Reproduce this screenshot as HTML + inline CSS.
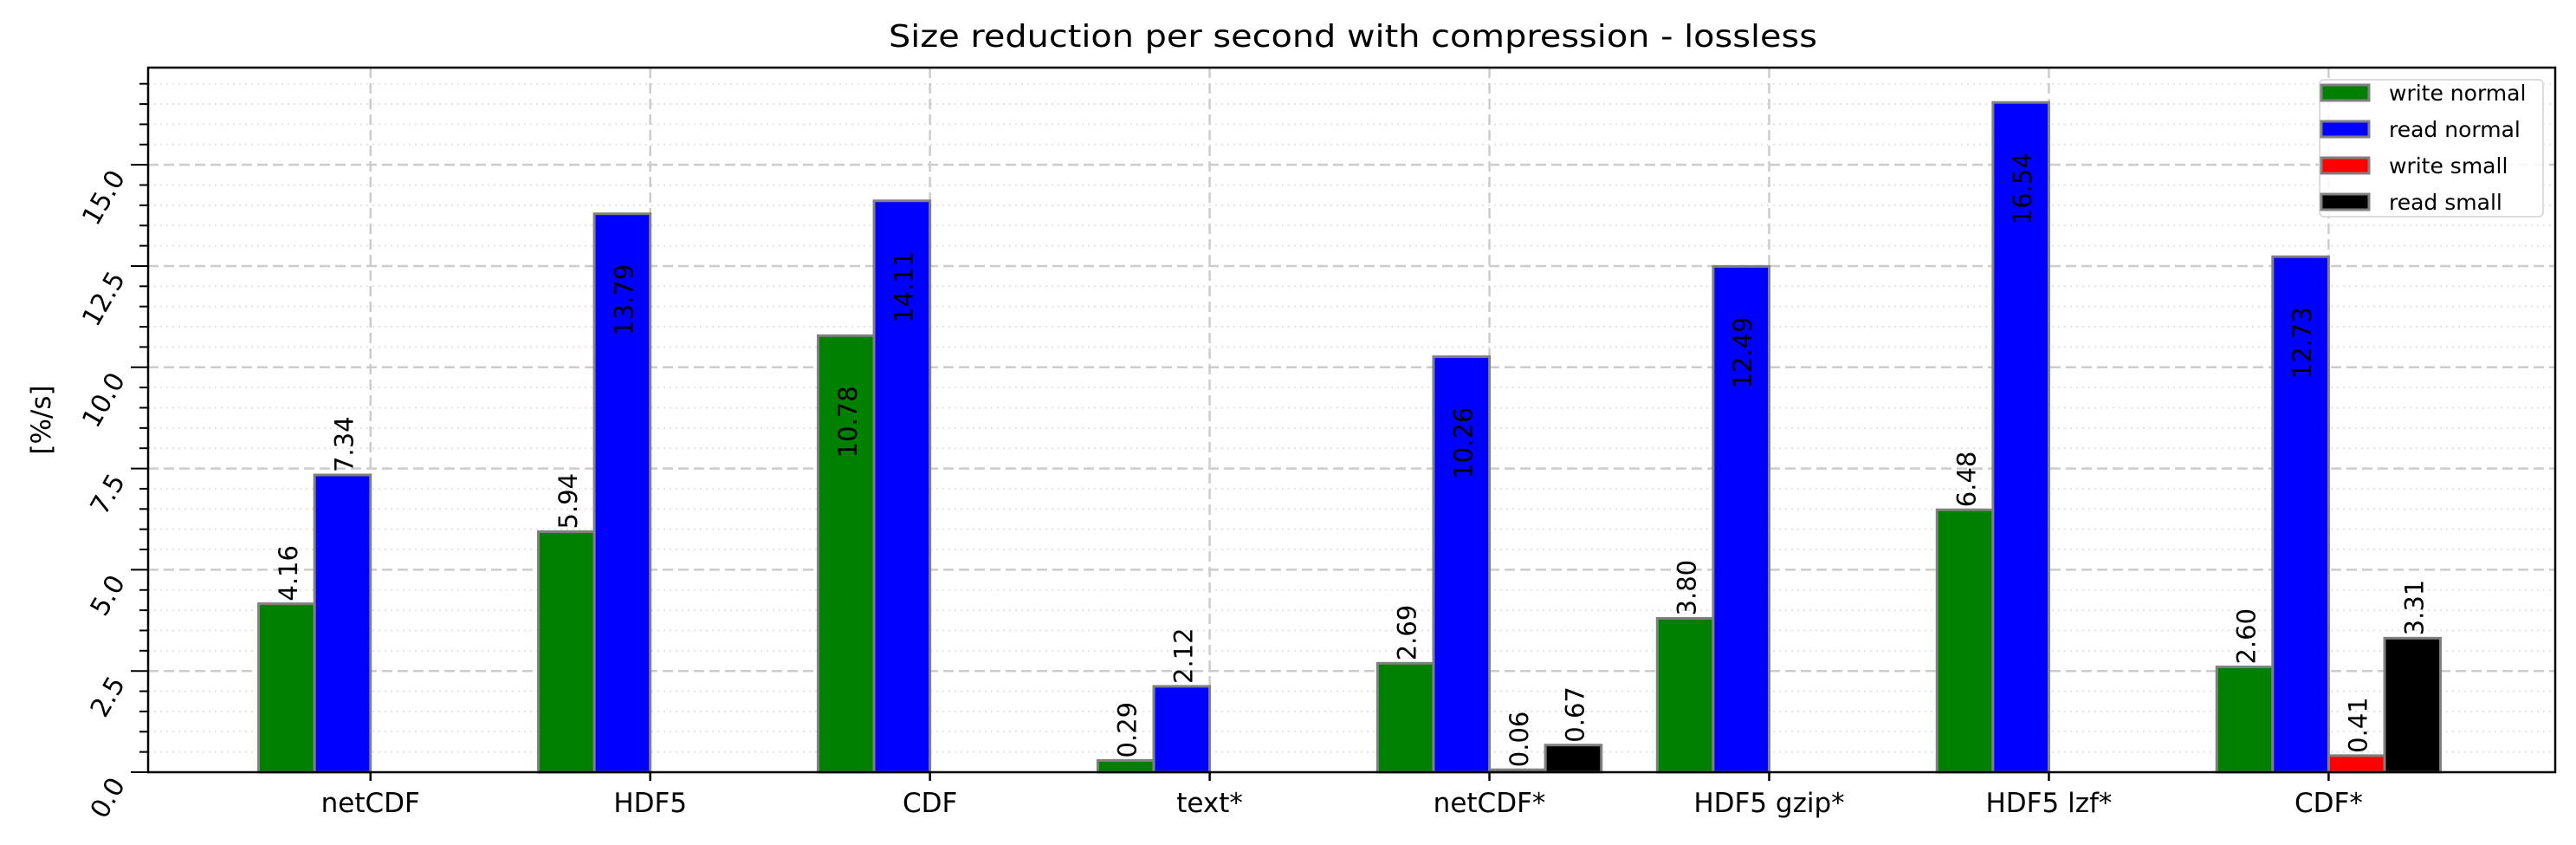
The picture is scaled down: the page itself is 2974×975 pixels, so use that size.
<!DOCTYPE html>
<html><head><meta charset="utf-8"><style>
html,body{margin:0;padding:0;background:#fff;}
svg{display:block;font-family:"DejaVu Sans","Liberation Sans",sans-serif;}
</style></head><body>
<svg id="chart" width="2974" height="975" viewBox="0 0 2974 975" xmlns="http://www.w3.org/2000/svg">
<text x="1562" y="54" font-size="36" text-anchor="middle" textLength="1072" lengthAdjust="spacingAndGlyphs">Size reduction per second with compression - lossless</text>
<g id="grid"></g><g id="bars"></g><g id="axes"></g>
</svg>
<script>
const categories = ["netCDF","HDF5","CDF","text*","netCDF*","HDF5 gzip*","HDF5 lzf*","CDF*"];
const writeNormal = [4.16,5.94,10.78,0.29,2.69,3.80,6.48,2.60];
const readNormal = [7.34,13.79,14.11,2.12,10.26,12.49,16.54,12.73];
const writeSmall = [null,null,null,null,0.06,null,null,0.41];
const readSmall = [null,null,null,null,0.67,null,null,3.31];
const yTicks = [0,2.5,5,7.5,10,12.5,15];
const yTickLabels = ["0.0","2.5","5.0","7.5","10.0","12.5","15.0"];
const seriesNames = ["write normal","read normal","write small","read small"];

const NS="http://www.w3.org/2000/svg";
const L=171,R=2950,T=78,B=891,XMIN=-0.795,XMAX=7.81,YMAX=17.4;
const xs=v=>L+(v-XMIN)/(XMAX-XMIN)*(R-L);
const ys=v=>B-v/YMAX*(B-T);
function mk(tag,attrs,parent){const e=document.createElementNS(NS,tag);for(const k in attrs)e.setAttribute(k,attrs[k]);parent.appendChild(e);return e;}
const grid=document.getElementById('grid'),bars=document.getElementById('bars'),axes=document.getElementById('axes');
for(let v=0.5;v<YMAX;v+=0.5){
  if(Math.abs(v/2.5-Math.round(v/2.5))<1e-6)continue;
  const g=mk('line',{x1:L,x2:R,y1:ys(v),y2:ys(v),stroke:'#e3e3e3','stroke-width':2,'stroke-dasharray':'2,5'},grid);
  
  
  const t=mk('line',{x1:L-10,x2:L,y1:ys(v),y2:ys(v),stroke:'#000','stroke-width':2},axes);
  
  
}
yTicks.forEach((v,i)=>{
  if(v>0){const g=mk('line',{x1:L,x2:R,y1:ys(v),y2:ys(v),stroke:'#cccccc','stroke-width':2.5,'stroke-dasharray':'12,6'},grid);
  
  }
  const t=mk('line',{x1:L-20,x2:L,y1:ys(v),y2:ys(v),stroke:'#000','stroke-width':2},axes);
  
  
  const lb=mk('text',{x:0,y:0,'font-size':30,'text-anchor':'end',transform:`translate(${L-26},${ys(v)+14}) rotate(-60)`},axes);
  lb.textContent=yTickLabels[i];
  
  
});
categories.forEach((c,i)=>{
  const g=mk('line',{x1:xs(i),x2:xs(i),y1:T,y2:B,stroke:'#cccccc','stroke-width':2.5,'stroke-dasharray':'12,6'},grid);
  
  
  const t=mk('line',{x1:xs(i),x2:xs(i),y1:B,y2:B+10,stroke:'#000','stroke-width':2.5},axes);
  
  
  const lb=mk('text',{x:xs(i),y:B+46,'font-size':31,'text-anchor':'middle'},axes);
  lb.textContent=c;
  
  
});
const series=[writeNormal,readNormal,writeSmall,readSmall];
const colors=['#008000','#0000ff','#ff0000','#000000'];
const W=0.2;
series.forEach((arr,s)=>{
  arr.forEach((v,i)=>{
    if(v===null)return;
    const x0=xs(i+(s-2)*W),x1=xs(i+(s-1)*W);
    const r=mk('rect',{x:x0,y:ys(v),width:x1-x0,height:B-ys(v),fill:colors[s],stroke:'#808080','stroke-width':3},bars);
    
    
    const cx=(x0+x1)/2+12;
    let lb;
    if(v>10){
      lb=mk('text',{x:0,y:0,'font-size':29,'text-anchor':'end',transform:`translate(${cx},${ys(v)+58}) rotate(-90)`},bars);
    }else{
      lb=mk('text',{x:0,y:0,'font-size':29,'text-anchor':'start',transform:`translate(${cx},${ys(v)-3}) rotate(-90)`},bars);
    }
    lb.textContent=v.toFixed(2);
    
    
  });
});
const frame=mk('rect',{x:L,y:T,width:R-L,height:B-T,fill:'none',stroke:'#000','stroke-width':2.5},axes);


const yl=mk('text',{x:0,y:0,'font-size':31,'text-anchor':'middle',transform:`translate(58,${(T+B)/2}) rotate(-90)`},axes);
yl.textContent='[%/s]';


const lg=mk('g',{},axes);


mk('rect',{x:2678,y:92,width:258,height:158,rx:5,fill:'#fff','fill-opacity':0.85,stroke:'#dddddd','stroke-width':2},lg);
seriesNames.forEach((n,s)=>{
  const yy=98+s*42;
  const sw=mk('rect',{x:2680,y:yy,width:55,height:18,fill:colors[s],stroke:'#808080','stroke-width':3},lg);
  
  
  const t=mk('text',{x:2758,y:yy+18,'font-size':25},lg);
  t.textContent=n;
  
  
});
</script>
</body></html>
